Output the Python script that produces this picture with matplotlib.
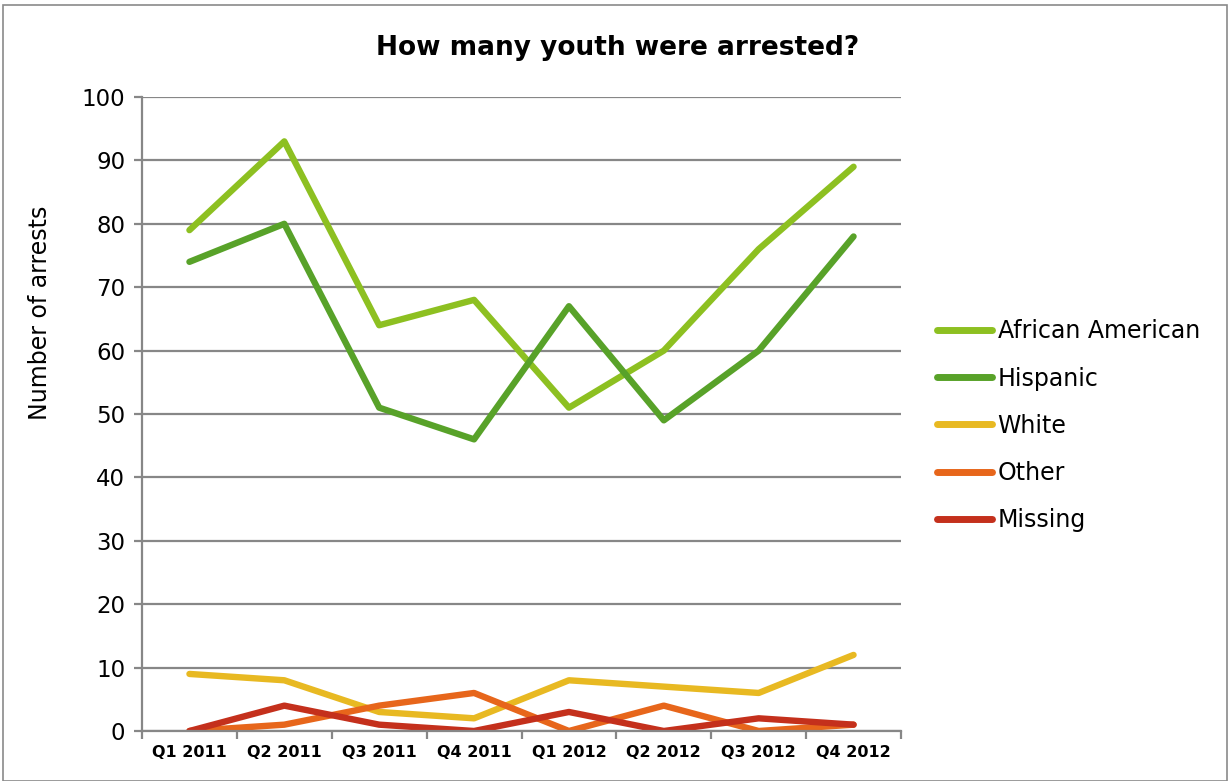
import matplotlib
matplotlib.use("Agg")
import matplotlib.pyplot as plt
from matplotlib.patches import Rectangle
import numpy as np

quarters = ["Q1 2011", "Q2 2011", "Q3 2011", "Q4 2011",
            "Q1 2012", "Q2 2012", "Q3 2012", "Q4 2012"]
african_american = [79, 93, 64, 68, 51, 60, 76, 89]
hispanic = [74, 80, 51, 46, 67, 49, 60, 78]
white = [9, 8, 3, 2, 8, 7, 6, 12]
other = [0, 1, 4, 6, 0, 4, 0, 1]
missing = [0, 4, 1, 0, 3, 0, 2, 1]

series = [
    ("African American", african_american, "#8dc021"),
    ("Hispanic", hispanic, "#58a229"),
    ("White", white, "#e8b922"),
    ("Other", other, "#e7661b"),
    ("Missing", missing, "#c4301c"),
]

grid_col = "#878787"

fig = plt.figure(figsize=(12.30, 7.81), dpi=100)
ax = fig.add_axes([142 / 1230, 1 - 731 / 781, 759 / 1230, 634 / 781])

x = np.arange(len(quarters)) + 0.5
for name, vals, col in series:
    ax.plot(x, vals, color=col, lw=4.6, label=name,
            solid_capstyle="round", solid_joinstyle="round")

ax.set_xlim(0, len(quarters))
ax.set_ylim(0, 100)
ax.set_yticks(np.arange(0, 101, 10))
ax.yaxis.grid(True, color=grid_col, lw=1.6)
ax.set_axisbelow(True)

ax.set_xticks(np.arange(0, len(quarters) + 1))
ax.set_xticklabels([])
ax.set_xticks(x, minor=True)
ax.set_xticklabels(quarters, minor=True, fontsize=11.5, fontweight="semibold")
ax.tick_params(axis="x", which="minor", length=0, pad=10)
ax.tick_params(axis="x", which="major", length=6, width=1.6, color=grid_col)
ax.tick_params(axis="y", length=6, width=1.6, color=grid_col, pad=6,
               labelsize=16.5)

for s in ("top", "right"):
    ax.spines[s].set_visible(False)
for s in ("left", "bottom"):
    ax.spines[s].set_color(grid_col)
    ax.spines[s].set_linewidth(1.6)

fig.text(40 / 1230, 1 - 313 / 781, "Number of arrests", rotation=90,
         ha="center", va="center", fontsize=17)
fig.text(618 / 1230, 1 - 48 / 781, "How many youth were arrested?",
         ha="center", va="center", fontsize=19, fontweight="bold")

leg = ax.legend(loc="upper left", bbox_to_anchor=(928 / 1230, 1 - 310 / 781),
                bbox_transform=fig.transFigure, frameon=False,
                fontsize=17, handlelength=2.3, handletextpad=0.25,
                labelspacing=0.98, borderaxespad=0)
for h in leg.get_lines():
    h.set_linewidth(5)
    h.set_solid_capstyle("round")

fig.patches.append(Rectangle((3 / 1230, 0), 1224 / 1230, 1 - 5 / 781,
                             transform=fig.transFigure, fill=False,
                             edgecolor="#8a8a8a", lw=1.2))

fig.savefig("out.png", dpi=100)
